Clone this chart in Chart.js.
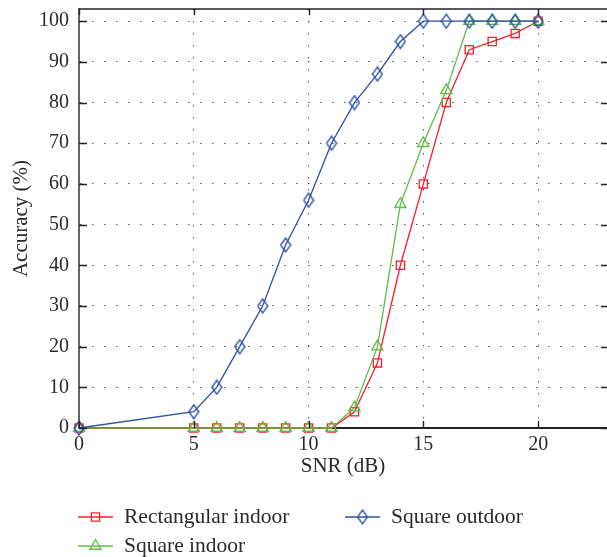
<!DOCTYPE html>
<html><head><meta charset="utf-8">
<script src="https://cdn.jsdelivr.net/npm/chart.js@4/dist/chart.umd.min.js"></script>
<style>html,body{margin:0;padding:0;background:#fff}#wrap{width:607px;height:557px;position:relative}</style>
</head><body><div id="wrap"><canvas id="c" width="607" height="557"></canvas></div>
<script>
// ---- data ----
const snr = [0,5,6,7,8,9,10,11,12,13,14,15,16,17,18,19,20];
const rectIndoor   = [0,0,0,0,0,0,0,0,4,16,40,60,80,93,95,97,100];
const squareIndoor = [0,0,0,0,0,0,0,0,5,20,55,70,83,100,100,100,100];
const squareOutdoor= [0,4,10,20,30,45,56,70,80,87,95,100,100,100,100,100,100];
const seriesNames = ['Rectangular indoor','Square indoor','Square outdoor'];
const xTickValues = [0,5,10,15,20];
const yTickValues = [0,10,20,30,40,50,60,70,80,90,100];
const xTitle = 'SNR (dB)';
const yTitle = 'Accuracy (%)';

// ---- styles ----
const FONT = "'Liberation Serif', 'Times New Roman', serif";
const RED = '#f4202c', GREEN = '#62bb46', BLUE = '#2d4fa6';

function diamondImage(color){
  const w = 12, h = 16, c = document.createElement('canvas');
  c.width = w; c.height = h;
  const g = c.getContext('2d');
  g.strokeStyle = color; g.lineWidth = 1.3;
  g.beginPath();
  g.moveTo(w/2, 1); g.lineTo(w-1, h/2); g.lineTo(w/2, h-1); g.lineTo(1, h/2); g.closePath();
  g.stroke();
  return c;
}
const diamond = diamondImage(BLUE);

const toXY = ys => snr.map((x,i)=>({x, y: ys[i]}));

const datasets = [
  {label: seriesNames[0], data: toXY(rectIndoor), borderColor: RED, pointStyle: 'rect', pointRadius: 5.8, order: 2},
  {label: seriesNames[1], data: toXY(squareIndoor), borderColor: GREEN, pointStyle: 'triangle', pointRadius: 6.5, order: 1},
  {label: seriesNames[2], data: toXY(squareOutdoor), borderColor: BLUE, pointStyle: diamond, pointRadius: 6, order: 0}
].map(d => Object.assign({
  borderWidth: 1.3, pointBorderWidth: 1.3, pointBorderColor: d.borderColor,
  pointBackgroundColor: 'rgba(0,0,0,0)', backgroundColor: 'rgba(0,0,0,0)',
  tension: 0, fill: false, clip: false
}, d));

const frame = {
  id: 'frame',
  afterDraw(chart){
    const {ctx, chartArea: a, scales: {x, y}} = chart;
    ctx.save();
    ctx.strokeStyle = '#222'; ctx.lineWidth = 1.6;
    ctx.beginPath();
    ctx.moveTo(a.left, a.top); ctx.lineTo(a.right, a.top);
    ctx.stroke();
    ctx.lineWidth = 1.4;
    ctx.beginPath();
    xTickValues.forEach(v => {
      const px = Math.round(x.getPixelForValue(v)) + 0.5;
      ctx.moveTo(px, a.bottom); ctx.lineTo(px, a.bottom - 7);
      ctx.moveTo(px, a.top); ctx.lineTo(px, a.top + 6);
    });
    yTickValues.forEach(v => {
      const py = Math.round(y.getPixelForValue(v)) + 0.5;
      ctx.moveTo(a.left, py); ctx.lineTo(a.left + 8, py);
      ctx.moveTo(a.right, py); ctx.lineTo(a.right - 6, py);
    });
    ctx.stroke();
    ctx.restore();
  }
};

const legendSlots = [{x: 78, y: 517}, {x: 78, y: 546}, {x: 345, y: 517}];
const customLegend = {
  id: 'customLegend',
  afterDraw(chart){
    const ctx = chart.ctx;
    ctx.save();
    chart.data.datasets.forEach((ds, i) => {
      const s = legendSlots[i];
      ctx.strokeStyle = ds.borderColor; ctx.lineWidth = 1.3;
      ctx.beginPath(); ctx.moveTo(s.x, s.y); ctx.lineTo(s.x + 35, s.y); ctx.stroke();
      ctx.fillStyle = 'rgba(0,0,0,0)';
      Chart.helpers.drawPoint(ctx, {pointStyle: ds.pointStyle, radius: ds.pointRadius, rotation: 0, borderWidth: 1.3}, s.x + 17.5, s.y);
      ctx.fillStyle = '#2a2a2a';
      ctx.font = '21.5px ' + FONT;
      ctx.textBaseline = 'middle'; ctx.textAlign = 'left';
      ctx.fillText(ds.label, s.x + 46, s.y);
    });
    ctx.restore();
  }
};

new Chart(document.getElementById('c'), {
  type: 'line',
  data: {datasets},
  options: {
    responsive: false, animation: false, devicePixelRatio: 1,
    layout: {autoPadding: false, padding: {top: 9, right: 0, bottom: 78, left: 0}},
    plugins: {legend: {display: false}, tooltip: {enabled: false}},
    scales: {
      x: {
        type: 'linear', min: 0, max: 23,
        afterBuildTicks: s => { s.ticks = xTickValues.map(v => ({value: v})); },
        afterFit: s => { s.height = 51; s.paddingLeft = 0; s.paddingRight = 0; },
        ticks: {font: {family: FONT, size: 20}, color: '#2a2a2a', padding: 5, maxRotation: 0},
        grid: {color: '#555', lineWidth: 1, drawTicks: false},
        border: {color: '#222', width: 2, dash: [1.5, 10.5]},
        title: {display: true, text: xTitle, font: {family: FONT, size: 21}, color: '#2a2a2a', padding: {top: 0, bottom: 0}}
      },
      y: {
        type: 'linear', min: 0, max: 103,
        afterBuildTicks: s => { s.ticks = yTickValues.map(v => ({value: v})); },
        afterFit: s => { s.width = 79; s.paddingTop = 0; s.paddingBottom = 0; },
        ticks: {font: {family: FONT, size: 20}, color: '#2a2a2a', padding: 10},
        grid: {color: '#555', lineWidth: 1, drawTicks: false},
        border: {color: '#666', width: 2, dash: [1.5, 10.5]},
        title: {display: true, text: yTitle, font: {family: FONT, size: 21}, color: '#2a2a2a', padding: {top: 9, bottom: 0}}
      }
    }
  },
  plugins: [frame, customLegend]
});
</script></body></html>
